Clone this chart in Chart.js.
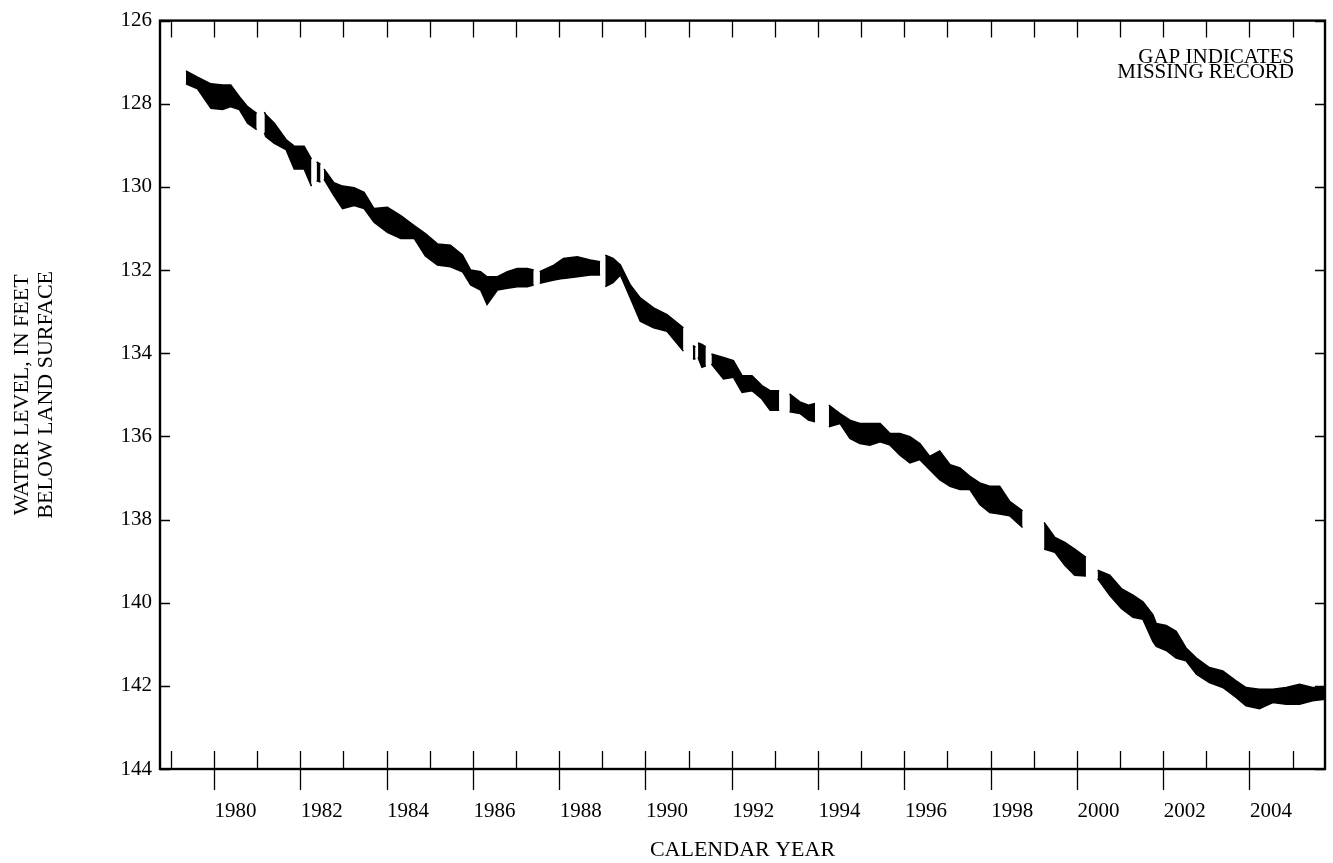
<!DOCTYPE html>
<html>
<head>
<meta charset="utf-8">
<title>Water level</title>
<script src="https://cdn.jsdelivr.net/npm/chart.js@4.4.1/dist/chart.umd.min.js"></script>
<style>
  html, body { margin: 0; padding: 0; background: #fff; }
  canvas { display: block; }
</style>
</head>
<body>
<canvas id="chart" width="1333" height="863"></canvas>
<script>
// decimal year of each reading; null levels mark missing record (gaps)
const years = [
  1979.35, 1979.62, 1979.93, 1980.20, 1980.39, 1980.59, 1980.78, 1980.99,
  1981.08,
  1981.17, 1981.20, 1981.40, 1981.67, 1981.86, 1982.09, 1982.26,
  1982.32,
  1982.38, 1982.47,
  1982.51,
  1982.55, 1982.78, 1982.98, 1983.25, 1983.48, 1983.71, 1984.02, 1984.33,
  1984.64, 1984.90, 1985.18, 1985.48, 1985.76, 1985.95, 1986.18, 1986.33,
  1986.57, 1986.80, 1987.03, 1987.26, 1987.41,
  1987.49,
  1987.55, 1987.88, 1988.10, 1988.42, 1988.72, 1988.95,
  1989.01,
  1989.07, 1989.25, 1989.42, 1989.65, 1989.88, 1990.19, 1990.50, 1990.88,
  1991.00,
  1991.10, 1991.16,
  1991.19,
  1991.22, 1991.31, 1991.40,
  1991.46,
  1991.53, 1991.81, 1992.04, 1992.24, 1992.47, 1992.70, 1992.89, 1993.10,
  1993.22,
  1993.34, 1993.58, 1993.78, 1993.93,
  1994.10,
  1994.25, 1994.51, 1994.74, 1994.97, 1995.20, 1995.44, 1995.67, 1995.90,
  1996.13, 1996.36, 1996.59, 1996.82, 1997.06, 1997.29, 1997.52, 1997.75,
  1997.98, 1998.21, 1998.44, 1998.74,
  1999.00,
  1999.24, 1999.49, 1999.72, 1999.95, 2000.21,
  2000.35,
  2000.48, 2000.76, 2001.03, 2001.30, 2001.53, 2001.76, 2001.84, 2002.07,
  2002.30, 2002.53, 2002.77, 2003.07, 2003.38, 2003.69, 2003.92, 2004.23,
  2004.54, 2004.85, 2005.16, 2005.46, 2005.75
];
// shallowest daily level in each stretch (upper edge of the trace), feet
const levelHigh = [
  127.21, 127.36, 127.52, 127.55, 127.55, 127.83, 128.07, 128.23,
  null,
  128.20, 128.26, 128.47, 128.86, 129.02, 129.02, 129.33,
  null,
  129.40, 129.45,
  null,
  129.57, 129.90, 129.98, 130.02, 130.13, 130.52, 130.49, 130.69,
  130.93, 131.12, 131.37, 131.40, 131.64, 132.00, 132.04, 132.16,
  132.16, 132.04, 131.96, 131.96, 132.00,
  null,
  132.04, 131.88, 131.72, 131.68, 131.76, 131.80,
  null,
  131.64, 131.72, 131.88, 132.36, 132.67, 132.91, 133.07, 133.39,
  null,
  133.82, 133.85,
  null,
  133.75, 133.79, 133.85,
  null,
  134.02, 134.10, 134.18, 134.54, 134.54, 134.78, 134.90, 134.90,
  null,
  134.98, 135.17, 135.25, 135.21,
  null,
  135.25, 135.45, 135.61, 135.69, 135.69, 135.69, 135.93, 135.93,
  136.01, 136.17, 136.48, 136.35, 136.68, 136.76, 136.96, 137.12,
  137.20, 137.20, 137.56, 137.79,
  null,
  138.07, 138.43, 138.55, 138.71, 138.91,
  null,
  139.22, 139.34, 139.66, 139.82, 139.98, 140.29, 140.50, 140.55,
  140.69, 141.09, 141.33, 141.56, 141.64, 141.88, 142.04, 142.08,
  142.08, 142.04, 141.96, 142.04, 142.04
];
// deepest daily level in each stretch (lower edge of the trace), feet
const levelLow = [
  127.52, 127.64, 128.11, 128.14, 128.07, 128.14, 128.47, 128.62,
  null,
  128.70, 128.79, 128.95, 129.10, 129.57, 129.57, 129.98,
  null,
  129.85, 129.88,
  null,
  129.81, 130.21, 130.52, 130.45, 130.52, 130.85, 131.09, 131.24,
  131.24, 131.66, 131.88, 131.92, 132.04, 132.36, 132.48, 132.83,
  132.48, 132.44, 132.40, 132.40, 132.36,
  null,
  132.32, 132.24, 132.20, 132.16, 132.12, 132.12,
  null,
  132.40, 132.30, 132.12, 132.67, 133.23, 133.39, 133.47, 133.95,
  null,
  134.14, 134.14,
  null,
  134.10, 134.34, 134.30,
  null,
  134.26, 134.62, 134.58, 134.94, 134.90, 135.10, 135.37, 135.37,
  null,
  135.41, 135.45, 135.61, 135.65,
  null,
  135.77, 135.69, 136.05, 136.17, 136.21, 136.13, 136.21, 136.45,
  136.64, 136.56, 136.80, 137.04, 137.20, 137.28, 137.28, 137.64,
  137.83, 137.87, 137.91, 138.19,
  null,
  138.71, 138.79, 139.10, 139.34, 139.36,
  null,
  139.42, 139.82, 140.14, 140.35, 140.40, 140.93, 141.05, 141.15,
  141.33, 141.40, 141.72, 141.92, 142.04, 142.28, 142.48, 142.55,
  142.40, 142.44, 142.44, 142.36, 142.32
];
const labelYears = [1980, 1982, 1984, 1986, 1988, 1990, 1992, 1994, 1996, 1998, 2000, 2002, 2004];
const levelTicks = [126, 128, 130, 132, 134, 136, 138, 140, 142, 144];

const FONT = '"Liberation Serif", "Times New Roman", serif';

// frame, year ticks, axis titles and note
const decor = {
  id: 'decor',
  afterDraw(chart) {
    const ctx = chart.ctx;
    const a = chart.chartArea;
    const xs = chart.scales.x;
    const ys = chart.scales.y;
    ctx.save();
    ctx.strokeStyle = '#000';
    ctx.lineWidth = 1.3;
    ctx.beginPath();
    for (let yr = 1979; yr <= 2005; yr++) {
      const px = Math.round(xs.getPixelForValue(yr)) + 0.5;
      ctx.moveTo(px, a.top); ctx.lineTo(px, a.top + 17);
      const down = yr % 2 === 0 ? 21 : 0;
      ctx.moveTo(px, a.bottom - 18); ctx.lineTo(px, a.bottom + down);
    }
    levelTicks.forEach(v => {
      const py = Math.round(ys.getPixelForValue(v)) + 0.5;
      ctx.moveTo(a.left, py); ctx.lineTo(a.left + 10, py);
      ctx.moveTo(a.right - 10, py); ctx.lineTo(a.right, py);
    });
    ctx.stroke();
    ctx.lineWidth = 2.4;
    ctx.strokeRect(a.left, a.top, a.right - a.left, a.bottom - a.top);

    ctx.fillStyle = '#000';
    ctx.font = '22px ' + FONT;
    ctx.textAlign = 'center';
    ctx.textBaseline = 'alphabetic';
    ctx.fillText('CALENDAR YEAR', (a.left + a.right) / 2, 856);

    ctx.save();
    ctx.translate(0, (a.top + a.bottom) / 2);
    ctx.rotate(-Math.PI / 2);
    ctx.fillText('WATER LEVEL, IN FEET', 0, 28);
    ctx.fillText('BELOW LAND SURFACE', 0, 52);
    ctx.restore();

    ctx.font = '21px ' + FONT;
    ctx.textAlign = 'right';
    ctx.fillText('GAP INDICATES', 1294, 63);
    ctx.fillText('MISSING RECORD', 1294, 78);
    ctx.restore();
  }
};

function draw() {
  new Chart(document.getElementById('chart').getContext('2d'), {
    type: 'line',
    data: {
      datasets: [
        {
          data: years.map((x, i) => ({ x, y: levelHigh[i] })),
          borderColor: '#000',
          borderWidth: 1.5,
          pointRadius: 0,
          fill: false,
          spanGaps: false
        },
        {
          data: years.map((x, i) => ({ x, y: levelLow[i] })),
          borderColor: '#000',
          backgroundColor: '#000',
          borderWidth: 1.5,
          pointRadius: 0,
          fill: '-1',
          spanGaps: false
        }
      ]
    },
    options: {
      responsive: false,
      animation: false,
      layout: { padding: { top: 13, right: 8, left: 0, bottom: 0 } },
      plugins: {
        legend: { display: false },
        tooltip: { enabled: false }
      },
      scales: {
        x: {
          type: 'linear',
          min: 1978.75,
          max: 2005.75,
          grid: { display: false, drawTicks: false, tickLength: 0 },
          border: { display: false },
          afterBuildTicks: scale => {
            scale.ticks = labelYears.map(y => ({ value: y + 0.5 }));
          },
          afterFit: scale => { scale.height = 94; },
          ticks: {
            autoSkip: false,
            maxRotation: 0,
            padding: 30,
            color: '#000',
            font: { family: FONT, size: 21 },
            callback: v => String(v - 0.5)
          }
        },
        y: {
          reverse: true,
          min: 126,
          max: 144,
          grid: { display: false, drawTicks: false, tickLength: 0 },
          border: { display: false },
          afterBuildTicks: scale => {
            scale.ticks = levelTicks.map(v => ({ value: v }));
          },
          afterFit: scale => { scale.width = 160; },
          ticks: {
            padding: 8,
            color: '#000',
            font: { family: FONT, size: 21 },
            callback: v => String(v)
          }
        }
      }
    },
    plugins: [decor]
  });
}

if (document.fonts && document.fonts.load) {
  document.fonts.load('21px "Liberation Serif"').then(draw, draw);
} else {
  draw();
}
</script>
</body>
</html>
